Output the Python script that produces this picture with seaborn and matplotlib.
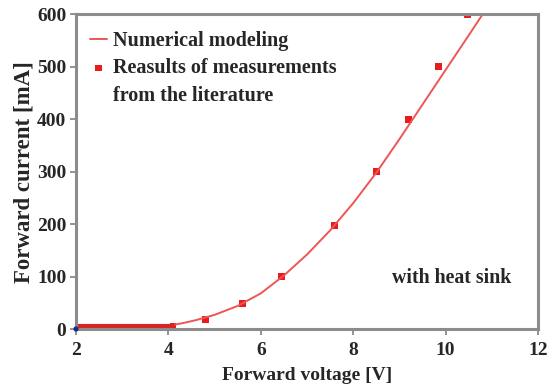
import matplotlib
matplotlib.use("Agg")
import matplotlib.pyplot as plt
from matplotlib.lines import Line2D
import seaborn as sns
import pandas as pd

# Data
model_v = [2.0, 3.0, 3.9, 4.05, 4.3, 4.6, 5.0, 5.5, 6.0, 6.5, 7.0, 7.5, 8.0, 8.5, 9.0, 9.5, 10.0, 10.5, 10.8]
model_i = [5, 5, 5, 7, 11, 17, 27, 44, 68, 102, 142, 188, 240, 298, 362, 428, 494, 560, 600]
meas_v = [4.1, 4.8, 5.6, 6.45, 7.6, 8.5, 9.2, 9.84, 10.48]
meas_i = [5, 18, 48, 100, 198, 300, 400, 500, 600]
flat_v = [2.0, 3.0, 4.1]
flat_i = [6, 6, 6]
origin_v = [2.0]
origin_i = [0]
x_ticks = [2, 4, 6, 8, 10, 12]
y_ticks = [0, 100, 200, 300, 400, 500, 600]

sns.set_theme(style="white")
plt.rcParams['font.family'] = ['Liberation Serif', 'DejaVu Serif']
plt.rcParams['font.weight'] = 'bold'

fig = plt.figure(figsize=(5.48, 3.9), dpi=100)
ax = fig.add_axes([0.1387, 0.1564, 0.8431, 0.8069])

df_m = pd.DataFrame({"V": model_v, "I": model_i})
df_s = pd.DataFrame({"V": meas_v, "I": meas_i})
df_f = pd.DataFrame({"V": flat_v, "I": flat_i})
df_o = pd.DataFrame({"V": origin_v, "I": origin_i})

sns.lineplot(data=df_m, x="V", y="I", ax=ax, color="#ee5555", linewidth=1.4,
             label="Numerical modeling", sort=False)
sns.lineplot(data=df_f, x="V", y="I", ax=ax, color="#d42626", linewidth=3.0, legend=False)
sns.scatterplot(data=df_s, x="V", y="I", ax=ax, color="#e81c1c", marker="s", s=24,
                edgecolor="none", label="Reasults of measurements")
sns.scatterplot(data=df_o, x="V", y="I", ax=ax, color="#1a2a8a", marker="o", s=14,
                edgecolor="none", legend=False, clip_on=False, zorder=5)

ax.set_xlim(2, 12)
ax.set_ylim(0, 600)
ax.set_xticks(x_ticks)
ax.set_yticks(y_ticks)
ax.tick_params(axis="both", labelsize=14, length=4, width=1.2, color="#808080",
               direction="out", bottom=True, left=True)
ax.tick_params(axis="x", pad=5)
ax.tick_params(axis="y", pad=3)
for lab in ax.get_xticklabels() + ax.get_yticklabels():
    lab.set_fontweight("bold")
for sp in ax.spines.values():
    sp.set_color("#8c8c8c")
    sp.set_linewidth(2.2)

ax.set_xlabel("Forward voltage [V]", fontsize=14, fontweight="bold", labelpad=6)
ax.set_ylabel("Forward current [mA]", fontsize=16.5, fontweight="bold", labelpad=2)

ax.text(10.12, 97, "with heat sink", fontsize=14.3, fontweight="bold", ha="center", va="center")

handles, labels = ax.get_legend_handles_labels()
handles.append(Line2D([], [], linestyle="none", marker=None))
labels.append("from the literature")
leg = ax.legend(handles, labels, loc="upper left", frameon=False, handlelength=0.85,
                handletextpad=0.3, borderaxespad=0.0, borderpad=0.0, labelspacing=0.38,
                bbox_to_anchor=(0.03, 0.948),
                prop={"weight": "bold", "size": 14.5})

fig.savefig("out.png", dpi=100)
